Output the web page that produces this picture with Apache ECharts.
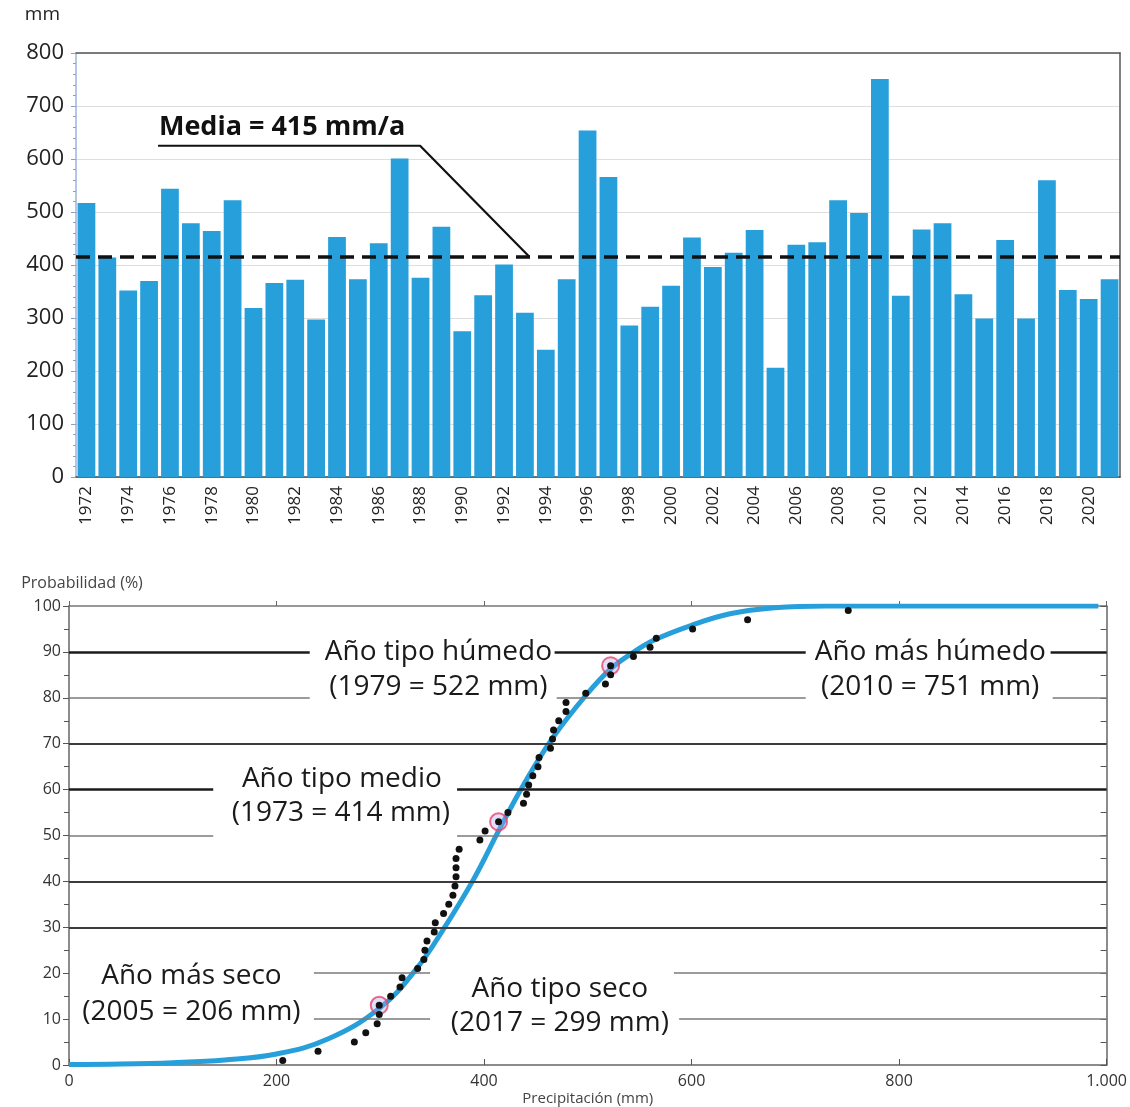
<!DOCTYPE html>
<html>
<head>
<meta charset="utf-8">
<title>Precipitación anual y probabilidad</title>
<script src="https://cdn.jsdelivr.net/npm/echarts@6/dist/echarts.min.js"></script>
<style>
  html, body { margin: 0; padding: 0; background: #fff; }
  #main { width: 1130px; height: 1107px; }
</style>
</head>
<body>
<div id="main"></div>
<script>
// --- data: annual precipitation (mm) ---
const years = ['1972', '1973', '1974', '1975', '1976', '1977', '1978', '1979', '1980', '1981',
  '1982', '1983', '1984', '1985', '1986', '1987', '1988', '1989', '1990', '1991',
  '1992', '1993', '1994', '1995', '1996', '1997', '1998', '1999', '2000', '2001',
  '2002', '2003', '2004', '2005', '2006', '2007', '2008', '2009', '2010', '2011',
  '2012', '2013', '2014', '2015', '2016', '2017', '2018', '2019', '2020', '2021']
const rainfall = [517, 414, 352, 370, 544, 479, 464, 522, 319, 366,
  372, 297, 453, 373, 441, 601, 376, 472, 275, 343,
  401, 310, 240, 373, 654, 566, 286, 321, 361, 452,
  396, 423, 466, 206, 438, 443, 522, 498, 751, 342,
  467, 479, 345, 299, 447, 299, 560, 353, 336, 373]
const MEAN = 415

// --- data: probability plot ---
const dotPrecip = [206, 240, 275, 286, 297, 299, 299, 310, 319, 321,
  336, 342, 343, 345, 352, 353, 361, 366, 370, 372,
  373, 373, 373, 376, 396, 401, 414, 423, 438, 441,
  443, 447, 452, 453, 464, 466, 467, 472, 479, 479,
  498, 517, 522, 522, 544, 560, 566, 601, 654, 751]
const dotProb = [1, 3, 5, 7, 9, 11, 13, 15, 17, 19,
  21, 23, 25, 27, 29, 31, 33, 35, 37, 39,
  41, 43, 45, 47, 49, 51, 53, 55, 57, 59,
  61, 63, 65, 67, 69, 71, 73, 75, 77, 79,
  81, 83, 85, 87, 89, 91, 93, 95, 97, 99]
const curveX = [0, 50, 100, 150, 200, 250, 300, 335, 362, 390, 414, 438, 466, 498, 522, 543, 564, 600, 637, 680, 730, 800, 900, 992]
const curveY = [0.1, 0.2, 0.5, 1.1, 2.4, 5.7, 12.5, 21, 30, 40.5, 51, 61, 71.2, 80.5, 86.3, 89.8, 92.6, 95.8, 98.3, 99.6, 100, 100, 100, 100]
const markedPrecip = [299, 414, 522]
const markedProb = [13, 53, 87]

// --- annotations (data units) ---
const mediaPath = [[3.43, 625], [15.98, 625], [21.2, 416]] // x = bar index
const mediaLabelAt = [9.37, 660]
const levelSpans = [
  { level: 90, weight: 'strong', spans: [[0, 232], [468, 710], [946, 1000]] },
  { level: 80, weight: 'light', spans: [[0, 232], [470, 710], [948, 1000]] },
  { level: 70, weight: 'medium', spans: [[0, 1000]] },
  { level: 60, weight: 'strong', spans: [[0, 139], [374, 1000]] },
  { level: 50, weight: 'light', spans: [[0, 139], [374, 1000]] },
  { level: 40, weight: 'medium', spans: [[0, 1000]] },
  { level: 30, weight: 'medium', spans: [[0, 1000]] },
  { level: 20, weight: 'light', spans: [[236, 348], [583, 1000]] },
  { level: 10, weight: 'light', spans: [[236, 348], [588, 1000]] }
]
const notes = [
  { text: 'Año tipo húmedo', at: [356, 90] },
  { text: '(1979 = 522 mm)', at: [356, 82.3] },
  { text: 'Año más húmedo', at: [830, 90] },
  { text: '(2010 = 751 mm)', at: [830, 82.3] },
  { text: 'Año tipo medio', at: [263, 62.4] },
  { text: '(1973 = 414 mm)', at: [262, 54.9] },
  { text: 'Año más seco', at: [118, 19.4] },
  { text: '(2005 = 206 mm)', at: [118, 11.6] },
  { text: 'Año tipo seco', at: [473, 16.6] },
  { text: '(2017 = 299 mm)', at: [473, 9.2] }
]

const FONT = '"Open Sans", "Noto Sans", sans-serif'
const BLUE = '#279fda'
const lineWeights = {
  strong: { color: '#1b1b1b', width: 2.6, type: 'solid' },
  medium: { color: '#3c3c3c', width: 2, type: 'solid' },
  light: { color: '#7a7a7a', width: 1.6, type: 'solid' }
}

let levelLines = []
levelSpans.forEach(item => {
  item.spans.forEach(span => {
    levelLines.push([
      { coord: [span[0], item.level], lineStyle: lineWeights[item.weight] },
      { coord: [span[1], item.level] }
    ])
  })
})

let chart = echarts.init(document.getElementById('main'))

let option = {
  animation: false,
  textStyle: { fontFamily: FONT },
  grid: [
    { left: 76, right: 10, top: 53, height: 424 },
    { left: 69, right: 18, top: 606, bottom: 37 }
  ],
  xAxis: [
    {
      type: 'category', gridIndex: 0, data: years,
      axisLine: { onZero: false, lineStyle: { color: '#444', width: 1.5 } },
      axisTick: { interval: 0, length: 6, lineStyle: { color: '#333', width: 1.5 } },
      axisLabel: { rotate: 90, interval: 1, fontSize: 17, color: '#222', margin: 9 }
    },
    {
      // frame line on top + helper scale for the annotation
      type: 'value', gridIndex: 0, position: 'top', min: -0.5, max: 49.5,
      axisLine: { show: true, onZero: false, lineStyle: { color: '#555', width: 1.5 } },
      axisTick: { show: false }, axisLabel: { show: false }, splitLine: { show: false }
    },
    {
      type: 'value', gridIndex: 1, min: 0, max: 1000, interval: 200,
      name: 'Precipitación (mm)', nameLocation: 'middle', nameGap: 26,
      nameTextStyle: { fontSize: 15, color: '#444' },
      axisLine: { onZero: false, lineStyle: { color: '#666', width: 1.5 } },
      axisTick: { inside: true, length: 6, lineStyle: { color: '#555' } },
      axisLabel: {
        fontSize: 16, color: '#333', margin: 8,
        formatter: v => v >= 1000 ? '1.000' : String(v)
      },
      splitLine: { show: false }
    },
    {
      type: 'value', gridIndex: 1, position: 'top', min: 0, max: 1000, interval: 200,
      axisLine: { onZero: false, lineStyle: { color: '#777', width: 1.5 } },
      axisTick: { length: 5, lineStyle: { color: '#666' } },
      axisLabel: { show: false }, splitLine: { show: false }
    }
  ],
  yAxis: [
    {
      type: 'value', gridIndex: 0, min: 0, max: 800, interval: 100,
      name: 'mm', nameLocation: 'end', nameGap: 38,
      nameTextStyle: { fontSize: 19, color: '#222', align: 'right', verticalAlign: 'middle', padding: [0, 16, 0, 0] },
      axisLine: { show: true, onZero: false, lineStyle: { color: '#9db5de', width: 1.5 } },
      axisTick: { show: true, length: 5, lineStyle: { color: '#8aa0c8' } },
      minorTick: { show: true, splitNumber: 5, length: 3, lineStyle: { color: '#8aa0c8' } },
      axisLabel: { fontSize: 22, color: '#222', margin: 12 },
      splitLine: { lineStyle: { color: '#dedede', width: 1 } }
    },
    {
      type: 'value', gridIndex: 1, min: 0, max: 100, interval: 10,
      name: 'Probabilidad (%)', nameLocation: 'end', nameGap: 23,
      nameTextStyle: { fontSize: 16, color: '#444', align: 'center', verticalAlign: 'middle', padding: [0, 0, 0, 26] },
      axisLine: { show: true, onZero: false, lineStyle: { color: '#666', width: 1.5 } },
      axisTick: { show: true, length: 6, lineStyle: { color: '#555' } },
      minorTick: { show: true, splitNumber: 2, length: 5, lineStyle: { color: '#555' } },
      axisLabel: { fontSize: 16, color: '#333', margin: 8 },
      splitLine: { show: false }
    },
    {
      type: 'value', gridIndex: 0, position: 'right', min: 0, max: 800,
      axisLine: { show: true, onZero: false, lineStyle: { color: '#555', width: 1.5 } },
      axisTick: { show: false }, axisLabel: { show: false }, splitLine: { show: false }
    },
    {
      type: 'value', gridIndex: 1, position: 'right', min: 0, max: 100, interval: 5,
      axisLine: { show: true, onZero: false, lineStyle: { color: '#666', width: 1.5 } },
      axisTick: { show: true, inside: true, length: 6, lineStyle: { color: '#555' } },
      axisLabel: { show: false }, splitLine: { show: false }
    }
  ],
  series: [
    {
      name: 'Precipitación', type: 'bar', xAxisIndex: 0, yAxisIndex: 0,
      data: rainfall, barCategoryGap: '15%',
      itemStyle: { color: BLUE },
      markLine: {
        silent: true, symbol: ['none', 'none'], label: { show: false },
        lineStyle: { color: '#111', width: 3.5, type: [14, 8] },
        data: [{ yAxis: MEAN }]
      }
    },
    {
      name: 'media-nota', type: 'line', xAxisIndex: 1, yAxisIndex: 0,
      data: mediaPath, symbol: 'none', silent: true,
      lineStyle: { color: '#111', width: 2.2 }
    },
    {
      name: 'niveles', type: 'line', xAxisIndex: 2, yAxisIndex: 1, data: [], z: 1,
      markLine: { silent: true, symbol: ['none', 'none'], label: { show: false }, data: levelLines }
    },
    {
      name: 'Ajuste', type: 'line', xAxisIndex: 2, yAxisIndex: 1, z: 3,
      data: curveX.map((x, i) => [x, curveY[i]]),
      smooth: 0.4, symbol: 'none',
      lineStyle: { color: BLUE, width: 5 }
    },
    {
      name: 'Años tipo', type: 'scatter', xAxisIndex: 2, yAxisIndex: 1, z: 4,
      data: markedPrecip.map((x, i) => [x, markedProb[i]]),
      symbolSize: 17,
      itemStyle: { color: 'rgba(175,160,235,0.45)', borderColor: '#e5466b', borderWidth: 2 }
    },
    {
      name: 'Observado', type: 'scatter', xAxisIndex: 2, yAxisIndex: 1, z: 5,
      data: dotPrecip.map((x, i) => [x, dotProb[i]]),
      symbolSize: 7, itemStyle: { color: '#111', opacity: 1 }
    }
  ]
}

chart.setOption(option)

// text annotations placed through the axes' scales
let texts = []
let mp = chart.convertToPixel({ xAxisIndex: 1, yAxisIndex: 0 }, mediaLabelAt)
texts.push({
  type: 'text', x: mp[0], y: mp[1], z: 10,
  style: {
    text: 'Media = 415 mm/a', font: 'bold 27px ' + FONT, fill: '#111',
    align: 'center', verticalAlign: 'middle', textAlign: 'center', textVerticalAlign: 'middle'
  }
})
notes.forEach(n => {
  let p = chart.convertToPixel({ xAxisIndex: 2, yAxisIndex: 1 }, n.at)
  texts.push({
    type: 'text', x: p[0], y: p[1], z: 10,
    style: {
      text: n.text, font: '28px ' + FONT, fill: '#1a1a1a',
      align: 'center', verticalAlign: 'middle', textAlign: 'center', textVerticalAlign: 'middle'
    }
  })
})
chart.setOption({ graphic: texts })
</script>
</body>
</html>
